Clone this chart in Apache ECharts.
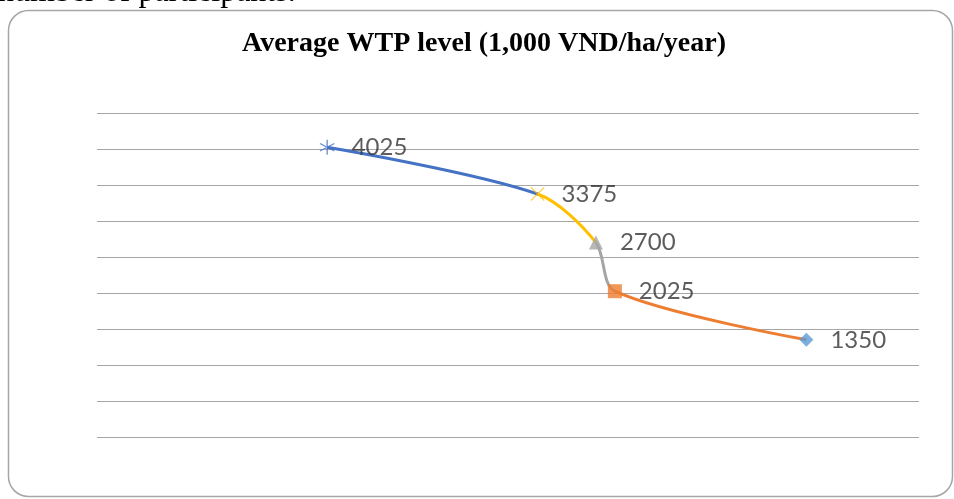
<!DOCTYPE html>
<html>
<head>
<meta charset="utf-8">
<script src="https://cdn.jsdelivr.net/npm/echarts@6/dist/echarts.min.js"></script>
<style>
html,body{margin:0;padding:0;background:#fff;}
#chart{width:954px;height:499px;}
</style>
</head>
<body>
<div id="chart"></div>
<script>
// Data
const xValues = [28, 53.6, 60.7, 63, 86.3];
const wtpValues = [4025, 3375, 2700, 2025, 1350];
const markerColors = ['#4472C4', '#FFC000', '#A5A5A5', '#ED7D31', '#5B9BD5'];
const segmentColors = ['#4472C4', '#FFC000', '#A5A5A5', '#ED7D31'];
const titleText = 'Average WTP level (1,000 VND/ha/year)';
const topText = 'number of participants.';

const STAR = 'path://M4.6 0 L5.4 0 L5.4 10 L4.6 10 Z M9.13 2.15 L9.53 2.85 L0.87 7.85 L0.47 7.15 Z M0.87 2.15 L0.47 2.85 L9.13 7.85 L9.53 7.15 Z';
const XMARK = 'path://M0 0.6 L0.6 0 L10 9.4 L9.4 10 Z M9.4 0 L10 0.6 L0.6 10 L0 9.4 Z';
const markerSymbols = [STAR, XMARK, 'triangle', 'rect', 'diamond'];
const markerSizes = [15, 14, 14, 14, 14];

const points = xValues.map((x, i) => [x, wtpValues[i]]);

const pieces = [];
for (let i = 0; i < segmentColors.length; i++) {
  const p = { color: segmentColors[i] };
  if (i > 0) p.gt = xValues[i];
  if (i < segmentColors.length - 1) p.lte = xValues[i + 1];
  pieces.push(p);
}

const chart = echarts.init(document.getElementById('chart'), null, { renderer: 'canvas' });
chart.setOption({
  animation: false,
  backgroundColor: '#fff',
  grid: { left: 97, right: 35, top: 113, bottom: 62 },
  xAxis: {
    type: 'value', min: 0, max: 100,
    show: false, splitLine: { show: false }
  },
  yAxis: {
    type: 'value', min: 0, max: 4500, interval: 500,
    axisLine: { show: false }, axisTick: { show: false }, axisLabel: { show: false },
    splitLine: { lineStyle: { color: '#a6a6a6', width: 1 } }
  },
  visualMap: {
    show: false, type: 'piecewise', dimension: 0, seriesIndex: 0,
    pieces: pieces
  },
  graphic: [
    { type: 'rect', shape: { x: 8.5, y: 10.5, width: 944, height: 486, r: 20 },
      style: { fill: 'none', stroke: '#a6a6a6', lineWidth: 1.5 }, z: -1 },
    { type: 'text', x: -2, y: -7,
      style: { text: topText, font: '32px "Liberation Serif"', fill: '#000', verticalAlign: 'middle' } },
    { type: 'text', x: 484, y: 44,
      style: { text: titleText, font: 'bold 28px "Liberation Serif"', fill: '#000', align: 'center', verticalAlign: 'middle' } }
  ],
  series: [
    {
      type: 'line', data: points, smooth: 0.3, showSymbol: false,
      lineStyle: { width: 3 }, z: 2
    },
    {
      type: 'scatter', z: 3,
      data: points.map((p, i) => ({
        value: p,
        symbol: markerSymbols[i],
        symbolSize: markerSizes[i],
        itemStyle: { color: markerColors[i] }
      })),
      label: {
        show: true, position: 'right', distance: 17,
        formatter: (p) => String(p.value[1]),
        fontFamily: 'Lato', fontSize: 24, color: '#333'
      }
    }
  ]
});
</script>
</body>
</html>
